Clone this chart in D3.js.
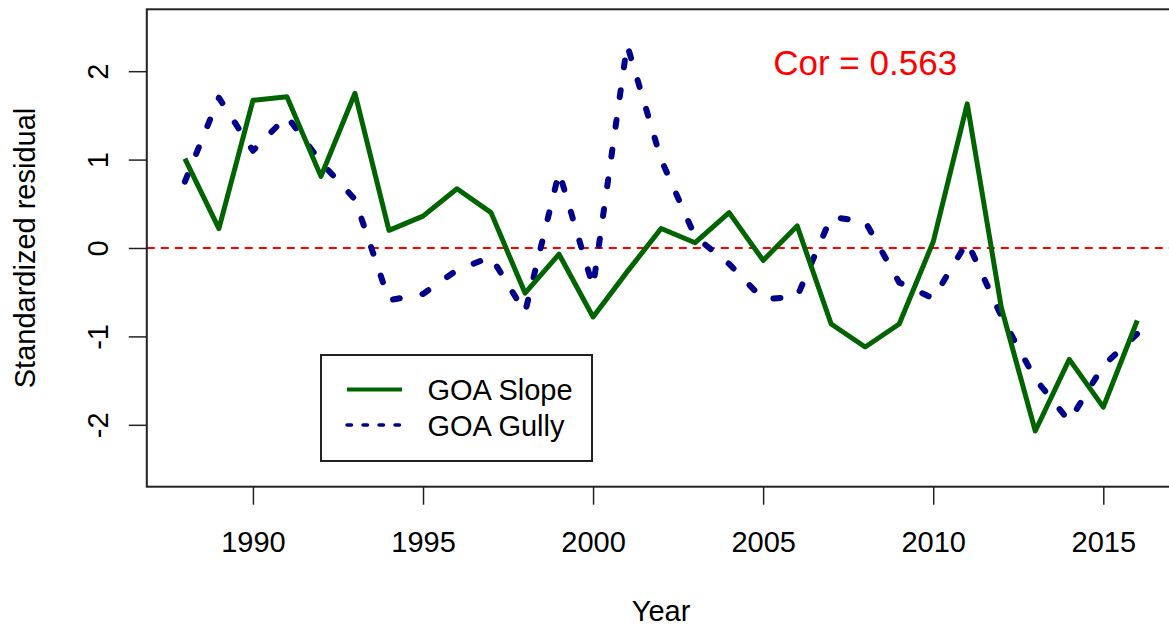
<!DOCTYPE html>
<html>
<head>
<meta charset="utf-8">
<script src="https://cdn.jsdelivr.net/npm/d3@7"></script>
<style>
  body { margin: 0; background: #fff; }
  text { font-family: "Liberation Sans", Arial, sans-serif; }
</style>
</head>
<body>
<div id="plot"></div>
<script>
// Data
var years = [1988, 1989, 1990, 1991, 1992, 1993, 1994, 1995, 1996, 1997,
  1998, 1999, 2000, 2001, 2002, 2003, 2004, 2005, 2006, 2007,
  2008, 2009, 2010, 2011, 2012, 2013, 2014, 2015, 2016];
var slope = [1.01, 0.22, 1.67, 1.71, 0.81, 1.75, 0.20, 0.36, 0.67, 0.40,
  -0.51, -0.07, -0.78, -0.27, 0.22, 0.06, 0.40, -0.14, 0.25, -0.86,
  -1.12, -0.86, 0.07, 1.63, -0.67, -2.07, -1.26, -1.80, -0.82];
var gully = [0.75, 1.70, 1.10, 1.49, 0.97, 0.55, -0.59, -0.52, -0.25, -0.10,
  -0.73, 0.86, -0.44, 2.30, 1.00, 0.13, -0.18, -0.58, -0.55, 0.35,
  0.30, -0.39, -0.57, 0.07, -0.77, -1.48, -1.96, -1.33, -0.97];
var xTicks = [1990, 1995, 2000, 2005, 2010, 2015];
var yTicks = [-2, -1, 0, 1, 2];
var seriesNames = ["GOA Slope", "GOA Gully"];
var corLabel = "Cor = 0.563";

// SVG area
var svgWidth = 1169;
var svgHeight = 629;

var svg = d3.select("#plot")
  .append("svg")
  .attr("width", svgWidth)
  .attr("height", svgHeight);

// Scales (R style 4% padding on x, ylim -2.5..2.5)
var xScale = d3.scaleLinear()
  .domain([1986.88, 2017.12])
  .range([146.8, 1175.4]);

var yScale = d3.scaleLinear()
  .domain([-2.7, 2.7])
  .range([486.7, 9.3]);

// zero reference line
svg.append("line")
  .attr("x1", xScale.range()[0])
  .attr("x2", xScale.range()[1])
  .attr("y1", yScale(0))
  .attr("y2", yScale(0))
  .attr("stroke", "#ff0000")
  .attr("stroke-width", 2)
  .attr("stroke-dasharray", "8,6");

var line = d3.line()
  .x((d, i) => xScale(years[i]))
  .y(d => yScale(d));

// Gully (dotted, dark blue)
svg.append("path")
  .datum(gully)
  .attr("d", line)
  .attr("fill", "none")
  .attr("stroke", "#00008b")
  .attr("stroke-width", 6)
  .attr("stroke-linecap", "round")
  .attr("stroke-linejoin", "round")
  .attr("stroke-dasharray", "7,23");

// Slope (solid, dark green)
svg.append("path")
  .datum(slope)
  .attr("d", line)
  .attr("fill", "none")
  .attr("stroke", "#006400")
  .attr("stroke-width", 5)
  .attr("stroke-linejoin", "round");

// Axes
var bottomAxis = d3.axisBottom(xScale).tickValues(xTicks).tickSize(18).tickPadding(26).tickFormat(d3.format("d"));
var leftAxis = d3.axisLeft(yScale).tickValues(yTicks).tickSize(18).tickFormat(d => d < 0 ? "-" + Math.abs(d) : d);

var xAxisG = svg.append("g")
  .attr("transform", `translate(0, ${yScale.range()[0]})`)
  .call(bottomAxis);
xAxisG.select(".domain").remove();
xAxisG.selectAll("line").attr("stroke", "#222").attr("stroke-width", 1.5);
xAxisG.selectAll("text")
  .attr("fill", "#000")
  .attr("dy", null)
  .attr("y", 65)
  .style("font-size", "29px")
  .style("font-family", "'Liberation Sans', Arial, sans-serif");

var yAxisG = svg.append("g")
  .attr("transform", `translate(${xScale.range()[0]}, 0)`)
  .call(leftAxis);
yAxisG.select(".domain").remove();
yAxisG.selectAll("line").attr("stroke", "#222").attr("stroke-width", 1.5);
yAxisG.selectAll("text")
  .attr("fill", "#000")
  .attr("x", null)
  .attr("dy", null)
  .attr("text-anchor", "middle")
  .attr("transform", "translate(-39, 0) rotate(-90)")
  .style("font-size", "29px")
  .style("font-family", "'Liberation Sans', Arial, sans-serif");

// plot box
svg.append("rect")
  .attr("x", xScale.range()[0])
  .attr("y", yScale.range()[1])
  .attr("width", xScale.range()[1] - xScale.range()[0])
  .attr("height", yScale.range()[0] - yScale.range()[1])
  .attr("fill", "none")
  .attr("stroke", "#222")
  .attr("stroke-width", 2);

// axis titles
svg.append("text")
  .attr("x", (xScale.range()[0] + xScale.range()[1]) / 2)
  .attr("y", 621)
  .attr("text-anchor", "middle")
  .style("font-size", "29px")
  .text("Year");

svg.append("text")
  .attr("transform", `translate(34.5, ${(yScale.range()[0] + yScale.range()[1]) / 2}) rotate(-90)`)
  .attr("text-anchor", "middle")
  .style("font-size", "29px")
  .text("Standardized residual");

// correlation label
svg.append("text")
  .attr("x", xScale(2008))
  .attr("y", yScale(2.1))
  .attr("dy", "0.36em")
  .attr("text-anchor", "middle")
  .attr("fill", "#ff0000")
  .style("font-size", "35px")
  .text(corLabel);

// legend
var legend = svg.append("g");
legend.append("rect")
  .attr("x", 321)
  .attr("y", 355)
  .attr("width", 271)
  .attr("height", 106)
  .attr("fill", "#fff")
  .attr("stroke", "#222")
  .attr("stroke-width", 2);

var legendStyles = [
  { color: "#006400", width: 4, dash: null },
  { color: "#00008b", width: 3.5, dash: "4.5,11.5" }
];

seriesNames.forEach(function(name, i) {
  var cy = 389.5 + i * 35.5;
  legend.append("line")
    .attr("x1", 347)
    .attr("x2", 402)
    .attr("y1", cy)
    .attr("y2", cy)
    .attr("stroke", legendStyles[i].color)
    .attr("stroke-width", legendStyles[i].width)
    .attr("stroke-linecap", legendStyles[i].dash ? "round" : "butt")
    .attr("stroke-dasharray", legendStyles[i].dash);
  legend.append("text")
    .attr("x", 427.5)
    .attr("y", cy + 10.5)
    .style("font-size", "29px")
    .attr("fill", "#000")
    .text(name);
});
</script>
</body>
</html>
